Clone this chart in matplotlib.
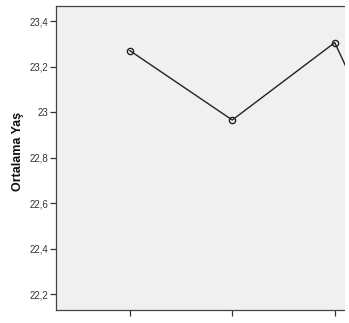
import matplotlib
matplotlib.use("Agg")
import matplotlib.pyplot as plt
from matplotlib.patches import Rectangle

# group means (x-axis categories are cut off in the picture)
groups = [0, 1, 2, 3]
means = [23.27, 22.965, 23.305, 22.34]

yticks = [22.2, 22.4, 22.6, 22.8, 23.0, 23.2, 23.4]
ytick_labels = ["22,2", "22,4", "22,6", "22,8", "23", "23,2", "23,4"]

plt.rcParams['font.family'] = ['Liberation Sans', 'DejaVu Sans']

W, H = 349, 323
fig = plt.figure(figsize=(W / 100, H / 100), dpi=100)
left, right = 56, 511
top, bottom = 6, 310
ax = fig.add_axes([left / W, 1 - bottom / H, (right - left) / W, (bottom - top) / H])
ax.set_facecolor("#f0f0f0")

ax.plot(groups, means, color="#222222", lw=1.0, marker="o", ms=4.5,
        mfc="none", mec="#222222", mew=1.0)

ax.set_xlim(-0.72, 3.72)
ax.set_ylim(22.13, 23.466)
ax.set_xticks(groups)
ax.set_xticklabels([])
ax.set_yticks(yticks)
ax.set_yticklabels(ytick_labels, fontsize=7, color="#333333")
ax.tick_params(axis="both", direction="out", length=4, width=0.9, color="#333333", pad=1.5)

for s in ax.spines.values():
    s.set_color("#444444")
    s.set_linewidth(0.9)

ax.set_ylabel("Ortalama Yaş", fontsize=9, fontweight="bold", color="#111111")
ax.yaxis.set_label_coords((24 - left) / (right - left), (bottom - 151) / (bottom - top))

# the source picture is cut off with a thin white margin on the right
fig.add_artist(Rectangle((345 / W, 0), 4 / W, 1, transform=fig.transFigure,
                         facecolor="white", edgecolor="none", zorder=10))

fig.savefig("out.png", dpi=100)
